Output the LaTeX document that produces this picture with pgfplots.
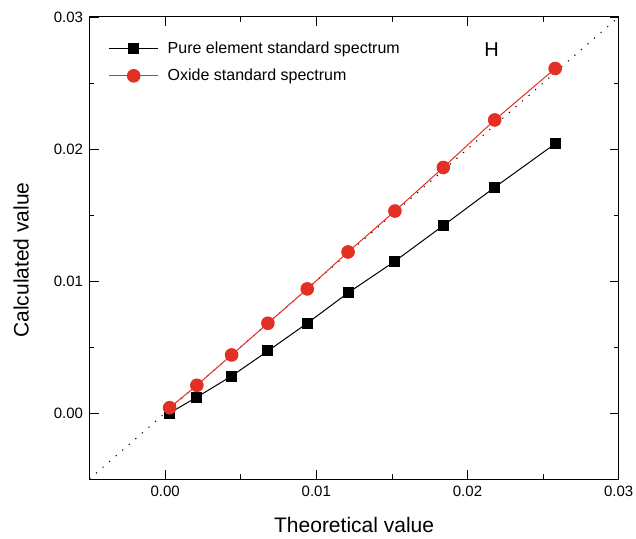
\documentclass[border=0pt]{standalone}
\usepackage{fontspec}
\setmainfont{Liberation Sans}
\usepackage{pgfplots}
\pgfplotsset{compat=1.18}
\definecolor{myred}{RGB}{228,47,37}
\begin{document}
\begin{tikzpicture}
\begin{axis}[
  scale only axis,
  width=529.2pt, height=462pt,
  xmin=-0.005, xmax=0.03, ymin=-0.005, ymax=0.03,
  xtick={0,0.01,0.02,0.03}, ytick={0,0.01,0.02,0.03},
  minor x tick num=1, minor y tick num=1,
  tick align=inside,
  major tick length=9pt, minor tick length=5pt,
  scaled ticks=false,
  /pgf/number format/assume math mode=true,
  xticklabel style={/pgf/number format/fixed,/pgf/number format/precision=2,/pgf/number format/fixed zerofill, font=\fontsize{15}{18}\selectfont, yshift=-3pt},
  yticklabel style={/pgf/number format/fixed,/pgf/number format/precision=2,/pgf/number format/fixed zerofill, font=\fontsize{15}{18}\selectfont, xshift=-3pt},
  axis line style={line width=1pt},
  every tick/.style={line width=0.8pt, black},
  xlabel={Theoretical value}, ylabel={Calculated value},
  label style={font=\fontsize{21}{25}\selectfont},
  xlabel style={yshift=-14pt},
  ylabel style={yshift=18pt, xshift=-12pt},
  legend style={draw=none, fill=none, at={(0,1)}, anchor=north west, xshift=16pt, yshift=-22pt, font=\fontsize{16}{19}\selectfont, row sep=12pt, nodes={inner sep=1pt}, /tikz/every odd column/.append style={column sep=8pt}},
  legend cell align=left,
  legend image code/.code={\draw[mark repeat=2,mark phase=2] plot coordinates {(0pt,0pt)(24.5pt,0pt)(49pt,0pt)};},
]
\addplot[black, dash pattern=on 1.2pt off 7.5pt, line width=1pt, forget plot] coordinates {(-0.005,-0.005) (0.03,0.03)};
\addplot[black, line width=1pt, mark=square*, mark size=5pt, mark options={solid}] coordinates {
(0.0003,0.0000) (0.0021,0.0012) (0.0044,0.0028) (0.0068,0.0047) (0.0094,0.0068)
(0.0121,0.0091) (0.0152,0.0115) (0.0184,0.0142) (0.0218,0.0171) (0.0258,0.0204)};
\addlegendentry{Pure element standard spectrum}
\addplot[myred, line width=1pt, mark=*, mark size=6.3pt, mark options={solid, fill=myred, draw=myred}] coordinates {
(0.0003,0.0004) (0.0021,0.0021) (0.0044,0.0044) (0.0068,0.0068) (0.0094,0.0094)
(0.0121,0.0122) (0.0152,0.0153) (0.0184,0.0186) (0.0218,0.0222) (0.0258,0.0261)};
\addlegendentry{Oxide standard spectrum}
\node[font=\fontsize{20}{24}\selectfont, anchor=center] at (axis cs:0.0216,0.0275) {H};
\end{axis}
\pgfresetboundingbox
\path[use as bounding box] ([xshift=-89.5pt,yshift=-59pt]current axis.south west) rectangle ([xshift=17.3pt,yshift=17pt]current axis.north east);
\end{tikzpicture}
\end{document}
